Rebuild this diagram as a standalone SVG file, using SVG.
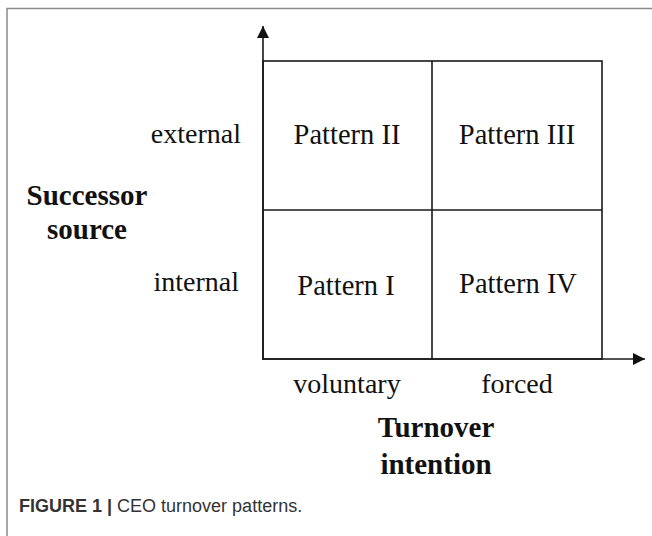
<svg xmlns="http://www.w3.org/2000/svg" width="652" height="536" viewBox="0 0 652 536">
  <style>
    .frame { fill: none; stroke: #8a8a8a; stroke-width: 1.5; }
    .grid { fill: none; stroke: #1a1a1a; stroke-width: 1.6; }
    .axis { stroke: #1a1a1a; stroke-width: 1.6; fill: none; }
    .lbl { font-family: "Liberation Serif", "Times New Roman", serif; font-size: 28px; fill: #111; }
    .cell { font-family: "Liberation Serif", "Times New Roman", serif; font-size: 28.5px; fill: #111; text-anchor: middle; }
    .title { font-family: "Liberation Serif", "Times New Roman", serif; font-size: 29px; font-weight: bold; fill: #111; text-anchor: middle; }
    .cap { font-family: "Liberation Sans", Arial, sans-serif; font-size: 18px; fill: #333; }
  </style>
  <defs>
    <marker id="arrow" viewBox="0 0 10 10" refX="10" refY="5" markerWidth="8.5" markerHeight="7.5" orient="auto" markerUnits="strokeWidth">
      <path d="M0,0 L10,5 L0,10 Z" fill="#111"/>
    </marker>
  </defs>
  <rect width="652" height="536" fill="#fff"/>
  <!-- figure panel border, open to the right and bottom -->
  <path class="frame" d="M7,540 V8.5 H660"/>

  <g id="connectors">
    <line class="axis" x1="263" y1="360" x2="263" y2="26" marker-end="url(#arrow)"/>
    <line class="axis" x1="262" y1="359" x2="645" y2="359" marker-end="url(#arrow)"/>
  </g>

  <g id="grid">
    <rect class="grid" x="263" y="61" width="339" height="298"/>
    <line class="grid" x1="432" y1="61" x2="432" y2="359"/>
    <line class="grid" x1="263" y1="210" x2="602" y2="210"/>
  </g>

  <g id="pattern-2"><text class="cell" x="347" y="144">Pattern II</text></g>
  <g id="pattern-3"><text class="cell" x="517" y="144">Pattern III</text></g>
  <g id="pattern-1"><text class="cell" x="346" y="295">Pattern I</text></g>
  <g id="pattern-4"><text class="cell" x="518" y="293">Pattern IV</text></g>

  <g id="y-axis-labels">
    <text class="lbl" x="241" y="143" text-anchor="end">external</text>
    <text class="lbl" x="239" y="291" text-anchor="end">internal</text>
    <text class="title" x="87" y="205">Successor</text>
    <text class="title" x="87" y="239">source</text>
  </g>

  <g id="x-axis-labels">
    <text class="lbl" x="347" y="393" text-anchor="middle">voluntary</text>
    <text class="lbl" x="517" y="393" text-anchor="middle">forced</text>
    <text class="title" x="436" y="437">Turnover</text>
    <text class="title" x="436" y="474">intention</text>
  </g>

  <text class="cap" x="19" y="512"><tspan font-weight="bold">FIGURE 1 |</tspan> CEO turnover patterns.</text>
</svg>
